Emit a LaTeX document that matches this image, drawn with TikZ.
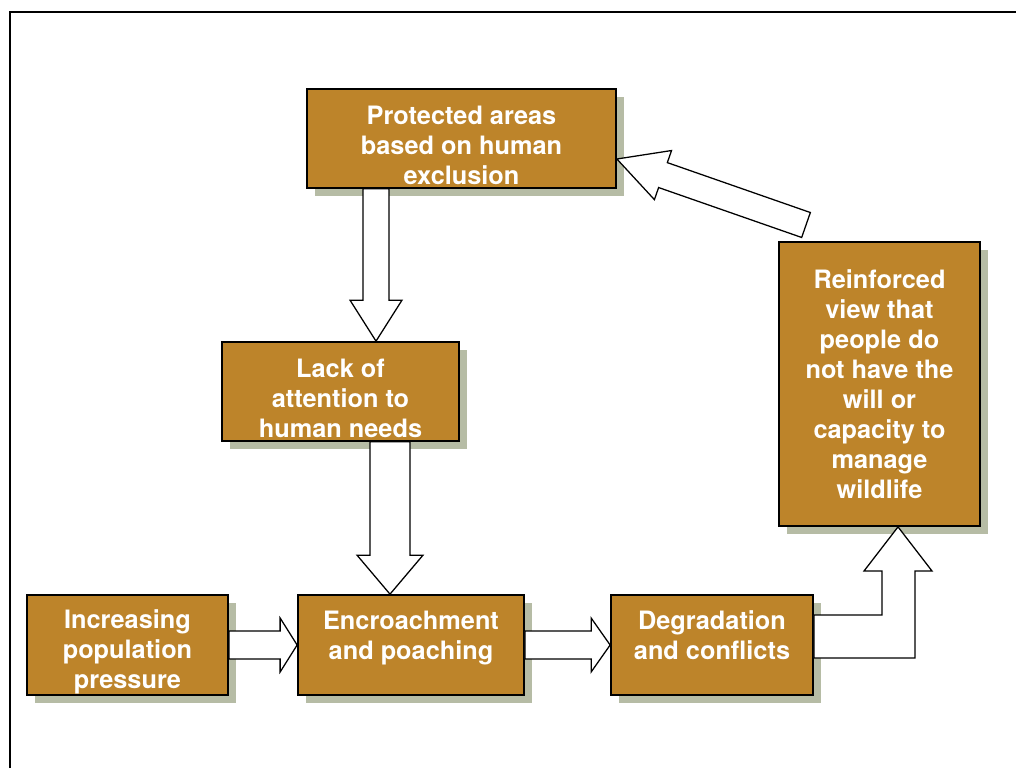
\documentclass[tikz,border=0pt]{standalone}
\usepackage{fontspec}
\setmainfont{TeX Gyre Heros}
\usepackage{tikz}
\usetikzlibrary{calc,shadows}

\definecolor{boxbrown}{RGB}{189,132,42}
\definecolor{shadowgrey}{RGB}{182,188,165}

\newcommand{\lowstrut}{\rule{0pt}{23pt}}

\tikzset{
  causebox/.style={draw=black, line width=1.2pt, fill=boxbrown, text=white,
    font=\fontsize{18}{21.3}\selectfont\bfseries, align=center, inner sep=0pt,
    drop shadow={shadow xshift=5.5pt, shadow yshift=-6pt, fill=shadowgrey, opacity=1}},
  hightext/.style={execute at end node=\rule[-13.5pt]{0pt}{0pt}},
  bigarr/.style={draw=black, line width=0.9pt, fill=white, line join=miter}
}

% block arrow: start, tip, half shaft, half head, head length
\newcommand{\bigarrow}[5]{%
  \coordinate (ba-h) at ($(#2)!#5!(#1)$);
  \draw[bigarr] ($(#1)!#3!90:(#2)$) -- ($(ba-h)!#3!90:(#2)$) -- ($(ba-h)!#4!90:(#2)$)
    -- (#2) -- ($(ba-h)!#4!-90:(#2)$) -- ($(ba-h)!#3!-90:(#2)$) -- ($(#1)!#3!-90:(#2)$) -- cycle;
}

\begin{document}
\begin{tikzpicture}[x=0.025cm, y=-0.025cm]
    \useasboundingbox (0,0) rectangle (1016,768);
    \draw[line width=1.3pt] (10,768) -- (10,12) -- (1016,12);

    \node[causebox, minimum width=7.725cm, minimum height=2.475cm] (prot) at (461.5,138.5)
        {\lowstrut Protected areas\\based on human\\exclusion};
    \node[causebox, minimum width=5.925cm, minimum height=2.475cm] (lack) at (340.5,391.5)
        {\lowstrut Lack of\\attention to\\human needs};
    \node[causebox, minimum width=5.025cm, minimum height=7.1cm] (reinf) at (879.5,384)
        {Reinforced\\view that\\people do\\not have the\\will or\\capacity to\\manage\\wildlife};
    \node[causebox, minimum width=5.025cm, minimum height=2.5cm] (incr) at (127.5,645)
        {\lowstrut Increasing\\population\\pressure};
    \node[causebox, hightext, minimum width=5.65cm, minimum height=2.5cm] (encr) at (411,645)
        {Encroachment\\and poaching};
    \node[causebox, hightext, minimum width=5.05cm, minimum height=2.5cm] (degr) at (712,645)
        {Degradation\\and conflicts};

    \coordinate (p1) at (prot.south -| 376,0);
    \coordinate (l1) at (lack.north -| 376,0);
    \bigarrow{p1}{l1}{0.325cm}{0.65cm}{1.025cm}

    \coordinate (l2) at (lack.south -| 390,0);
    \coordinate (e2) at (encr.north -| 390,0);
    \bigarrow{l2}{e2}{0.5cm}{0.825cm}{0.975cm}

    \bigarrow{incr.east}{encr.west}{0.35cm}{0.675cm}{0.425cm}
    \bigarrow{encr.east}{degr.west}{0.35cm}{0.675cm}{0.475cm}

    \coordinate (rtail) at (806,225);
    \coordinate (ptip) at (prot.east |- 0,159);
    \bigarrow{rtail}{ptip}{0.33cm}{0.65cm}{1.22cm}

    %\draw (degr.east) -- (reinf.south);
    \draw[bigarr] (degr.east |- 0,615) -- (882,615) -- (882,571) -- (864,571)
        -- (reinf.south -| 898,0) -- (932,571) -- (915,571) -- (915,658)
        -- (degr.east |- 0,658) -- cycle;
\end{tikzpicture}
\end{document}
